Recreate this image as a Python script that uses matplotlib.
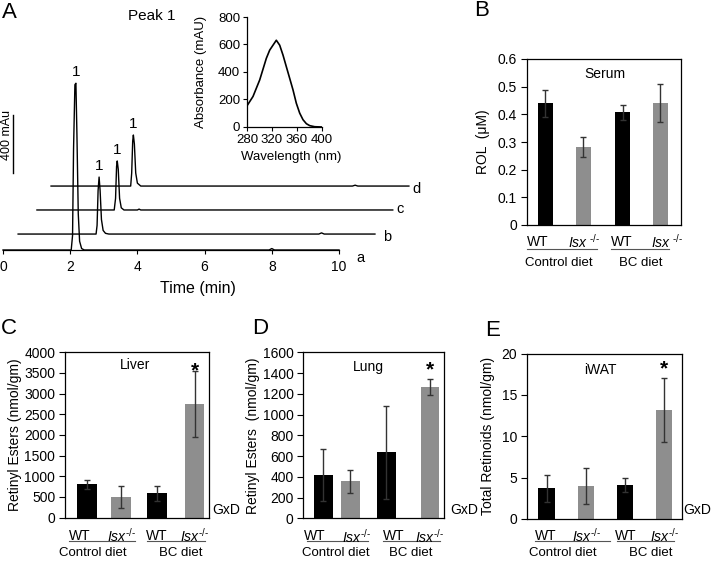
import matplotlib
matplotlib.use("Agg")
import matplotlib.pyplot as plt
from matplotlib.transforms import offset_copy

plt.rcParams.update({
    "font.family": ["Liberation Sans", "DejaVu Sans"],
    "font.size": 9,
    "mathtext.fontset": "custom",
    "mathtext.rm": "Liberation Sans",
    "mathtext.it": "Liberation Sans:italic",
    "mathtext.bf": "Liberation Sans:bold",
    "axes.linewidth": 0.9,
})

# ---- panel A: HPLC traces (time in min, signal in mAU above each baseline)
trace_a_t = [0.0, 2.03, 2.07, 2.10, 2.14, 2.17, 2.20, 2.24, 2.28, 2.34, 2.42, 7.92, 8.0, 8.08, 10.0]
trace_a_y = [0, 0, 100, 700, 1140, 1150, 800, 250, 60, 10, 0, 0, 10, 0, 0]
trace_b_t = [0.45, 2.77, 2.80, 2.83, 2.86, 2.89, 2.93, 2.98, 3.05, 3.15, 9.40, 9.48, 9.56, 11.07]
trace_b_y = [0, 0, 60, 300, 393, 300, 100, 25, 5, 0, 0, 8, 0, 0]
trace_c_t = [1.01, 3.31, 3.35, 3.38, 3.40, 3.43, 3.47, 3.52, 3.60, 4.00, 4.05, 4.10, 11.6]
trace_c_y = [0, 0, 80, 300, 338, 280, 80, 15, 0, 0, 6, 0, 0]
trace_d_t = [1.43, 3.80, 3.83, 3.86, 3.88, 3.91, 3.95, 4.00, 4.10, 10.40, 10.48, 10.56, 12.08]
trace_d_y = [0, 0, 90, 310, 352, 290, 90, 20, 0, 0, 6, 0, 0]
trace_baselines = [0, 110, 276, 441]
trace_names = ["a", "b", "c", "d"]
peak_times = [2.17, 2.86, 3.40, 3.88]
peak_heights = [1150, 393, 338, 352]

# inset absorbance spectrum of peak 1
spec_nm = [280, 289.6, 300.3, 310.9, 316.3, 321.6, 326.9, 332.3, 337.6, 342.9,
           348.3, 353.6, 358.9, 364.3, 369.6, 375, 380.3, 388.3, 400]
spec_mau = [154, 222, 342, 499, 559, 595, 631, 595, 523, 439,
            354, 270, 173, 101, 53, 24, 10, 2, 0]

# ---- bar panels: WT / Isx-/- on control and BC diet
serum_mean = [0.44, 0.283, 0.407, 0.44]
serum_err = [0.048, 0.036, 0.027, 0.068]
liver_mean = [810, 500, 585, 2750]
liver_err = [110, 265, 185, 800]
lung_mean = [417, 355, 635, 1265]
lung_err = [255, 113, 445, 78]
iwat_mean = [3.7, 4.0, 4.15, 13.15]
iwat_err = [1.6, 2.15, 0.85, 3.85]

serum_ticks = [0, 0.1, 0.2, 0.3, 0.4, 0.5, 0.6]
serum_ticklabels = ["0", "0.1", "0.2", "0.3", "0.4", "0.5", "0.6"]
liver_ticks = [0, 500, 1000, 1500, 2000, 2500, 3000, 3500, 4000]
lung_ticks = [0, 200, 400, 600, 800, 1000, 1200, 1400, 1600]
iwat_ticks = [0, 5, 10, 15, 20]

bar_colors = ["#000000", "#8e8e8e", "#000000", "#8e8e8e"]

W, H = 713, 561
fig = plt.figure(figsize=(W / 100, H / 100), dpi=100)


def add_ax(l, t, r, b):
    return fig.add_axes([l / W, 1 - b / H, (r - l) / W, (b - t) / H])


def ftext(x, y, s, **kw):
    fig.text(x / W, 1 - y / H, s, **kw)


# ---------------- panel A
min_px = 33.6
mau_px = 400 / 58
ax = add_ax(3, 62, 420, 250)
ax.set_xlim(0, (420 - 3) / min_px)
ax.set_ylim(0, (250 - 62) * mau_px)
traces = [(trace_a_t, trace_a_y), (trace_b_t, trace_b_y),
          (trace_c_t, trace_c_y), (trace_d_t, trace_d_y)]
letter_off = [(0.63, -57), (0.35, -22), (0.22, 5), (0.23, -22)]
for (t, y), base, name, off, pt, ph in zip(traces, trace_baselines, trace_names,
                                           letter_off, peak_times, peak_heights):
    ax.plot(t, [v + base for v in y], color="black", lw=1.0, clip_on=False)
    ax.text(t[-1] + off[0], base + off[1], name, fontsize=10.5, ha="center",
            va="center", clip_on=False)
    ax.annotate("1", (pt, base + ph), xytext=(0, 3), textcoords="offset points",
                ha="center", va="bottom", fontsize=11)
for s in ["left", "top", "right"]:
    ax.spines[s].set_visible(False)
ax.spines["bottom"].set_bounds(0, 10)
ax.set_xticks(range(0, 11, 2))
ax.set_yticks([])
ax.tick_params(axis="x", direction="out", length=3, pad=4, labelsize=10)
ax.set_xlabel("Time (min)", fontsize=11.5)
ax.xaxis.set_label_coords(0.468, -0.165)
# 400 mAU scale bar
ax.plot([0.30, 0.30], [531, 531 + 400], color="black", lw=1.0, clip_on=False)
ax.text(0.13, 790, "400 mAu", rotation=90, ha="center", va="center", fontsize=9)

axi = add_ax(247, 17, 322, 127)
axi.plot(spec_nm, spec_mau, color="black", lw=1.2)
axi.set_xlim(280, 400)
axi.set_ylim(0, 800)
axi.set_xticks([280, 320, 360, 400])
axi.set_yticks([0, 200, 400, 600, 800])
axi.spines["top"].set_visible(False)
axi.spines["right"].set_visible(False)
axi.tick_params(direction="out", length=3, pad=2, labelsize=9.5)
axi.set_xlabel("Wavelength (nm)", fontsize=9.5)
axi.xaxis.set_label_coords(0.59, -0.22)
axi.set_ylabel("Absorbance (mAU)", fontsize=9.5)
axi.yaxis.set_label_coords(-0.53, 0.5)

ftext(9, 12, "A", fontsize=16, ha="center", va="center")
ftext(152, 16, "Peak 1", fontsize=11, ha="center", va="center")


# ---------------- bar panels
def bar_panel(box, means, errs, pos, width, ticks, ticklabels, ylabel, ylab_x,
              title, title_xy, isx, lab_x, lines, diets, offs, star_y=None,
              gxd=None):
    a = add_ax(*box)
    a.bar(pos, means, width=width, color=bar_colors, zorder=2)
    a.errorbar(pos, means, yerr=errs, fmt="none", ecolor="#333333",
               elinewidth=1, capsize=2.5, capthick=1, zorder=3)
    a.set_xlim(0, 1)
    a.set_ylim(ticks[0], ticks[-1])
    a.set_yticks(ticks, ticklabels)
    a.set_xticks([])
    a.tick_params(axis="y", direction="out", length=4, pad=3, labelsize=10)
    a.set_ylabel(ylabel, fontsize=10)
    a.yaxis.set_label_coords(ylab_x, 0.5)
    a.text(title_xy[0], title_xy[1], title, transform=a.transAxes,
           ha="center", va="center", fontsize=10)
    if star_y is not None:
        a.text(pos[3], star_y, "*", transform=a.get_xaxis_transform(),
               ha="center", va="center", fontsize=15, fontweight="bold")
    tr_lab = offset_copy(a.transAxes, fig=fig, y=-offs[0], units="dots")
    tr_line = offset_copy(a.transAxes, fig=fig, y=-offs[1], units="dots")
    tr_diet = offset_copy(a.transAxes, fig=fig, y=-offs[2], units="dots")
    for i, p in enumerate(lab_x):
        lab = "WT" if i % 2 == 0 else isx
        a.text(p, 0, lab, transform=tr_lab, ha="center", va="center",
               fontsize=10)
    for x0, x1 in lines:
        a.plot([x0, x1], [0, 0], color="#555555", lw=0.8, transform=tr_line,
               clip_on=False)
    a.text(diets[0], 0, "Control diet", transform=tr_diet, ha="center",
           va="center", fontsize=9.5)
    a.text(diets[1], 0, "BC diet", transform=tr_diet, ha="center",
           va="center", fontsize=9.5)
    if gxd is not None:
        ftext(gxd[0], gxd[1], "GxD", fontsize=10, ha="left", va="center")
    return a


isx_b = "$\\mathit{Isx}^{\\ \u2010/\u2010}$"
isx_c = "$\\mathit{Isx}^{\u2010/\u2010}$"

bar_panel((526.7, 59, 681, 225), serum_mean, serum_err,
          [0.121, 0.368, 0.621, 0.866], 0.101, serum_ticks, serum_ticklabels,
          "ROL  (\u03bcM)", -0.235, "Serum", (0.505, 0.91), isx_b,
          [0.073, 0.372, 0.613, 0.91], [(0.002, 0.453), (0.548, 0.925)],
          (0.208, 0.742), (17, 24, 38))
ftext(482, 11, "B", fontsize=16, ha="center", va="center")

bar_panel((65, 352.3, 209.3, 517.5), liver_mean, liver_err,
          [0.152, 0.388, 0.637, 0.899], 0.134, liver_ticks,
          [str(v) for v in liver_ticks], "Retinyl Esters (nmol/gm)", -0.30,
          "Liver", (0.485, 0.923), isx_c, [0.102, 0.392, 0.636, 0.901],
          [(0.028, 0.485), (0.566, 0.97)], (0.19, 0.799), (18, 23, 36),
          star_y=0.885, gxd=(212, 510))
ftext(9, 329, "C", fontsize=16, ha="center", va="center")

bar_panel((303.3, 352.3, 444, 518.3), lung_mean, lung_err,
          [0.142, 0.335, 0.59, 0.90], 0.133, lung_ticks,
          [str(v) for v in lung_ticks], "Retinyl Esters  (nmol/gm)", -0.31,
          "Lung", (0.462, 0.91), isx_c, [0.083, 0.38, 0.64, 0.90],
          [(0.024, 0.462), (0.569, 0.972)], (0.231, 0.764), (18, 22.5, 35),
          star_y=0.895, gxd=(450, 510))
ftext(260, 329, "D", fontsize=16, ha="center", va="center")

bar_panel((526.7, 353.5, 682.3, 519), iwat_mean, iwat_err,
          [0.129, 0.381, 0.632, 0.883], 0.107, iwat_ticks,
          [str(v) for v in iwat_ticks], "Total Retinoids (nmol/gm)", -0.205,
          "iWAT", (0.471, 0.9), isx_c, [0.123, 0.386, 0.637, 0.889],
          [(0.053, 0.535), (0.578, 0.947)], (0.23, 0.798), (17, 22, 34.5),
          star_y=0.91, gxd=(683, 510))
ftext(493, 330, "E", fontsize=16, ha="center", va="center")

fig.savefig("out.png", dpi=100)
